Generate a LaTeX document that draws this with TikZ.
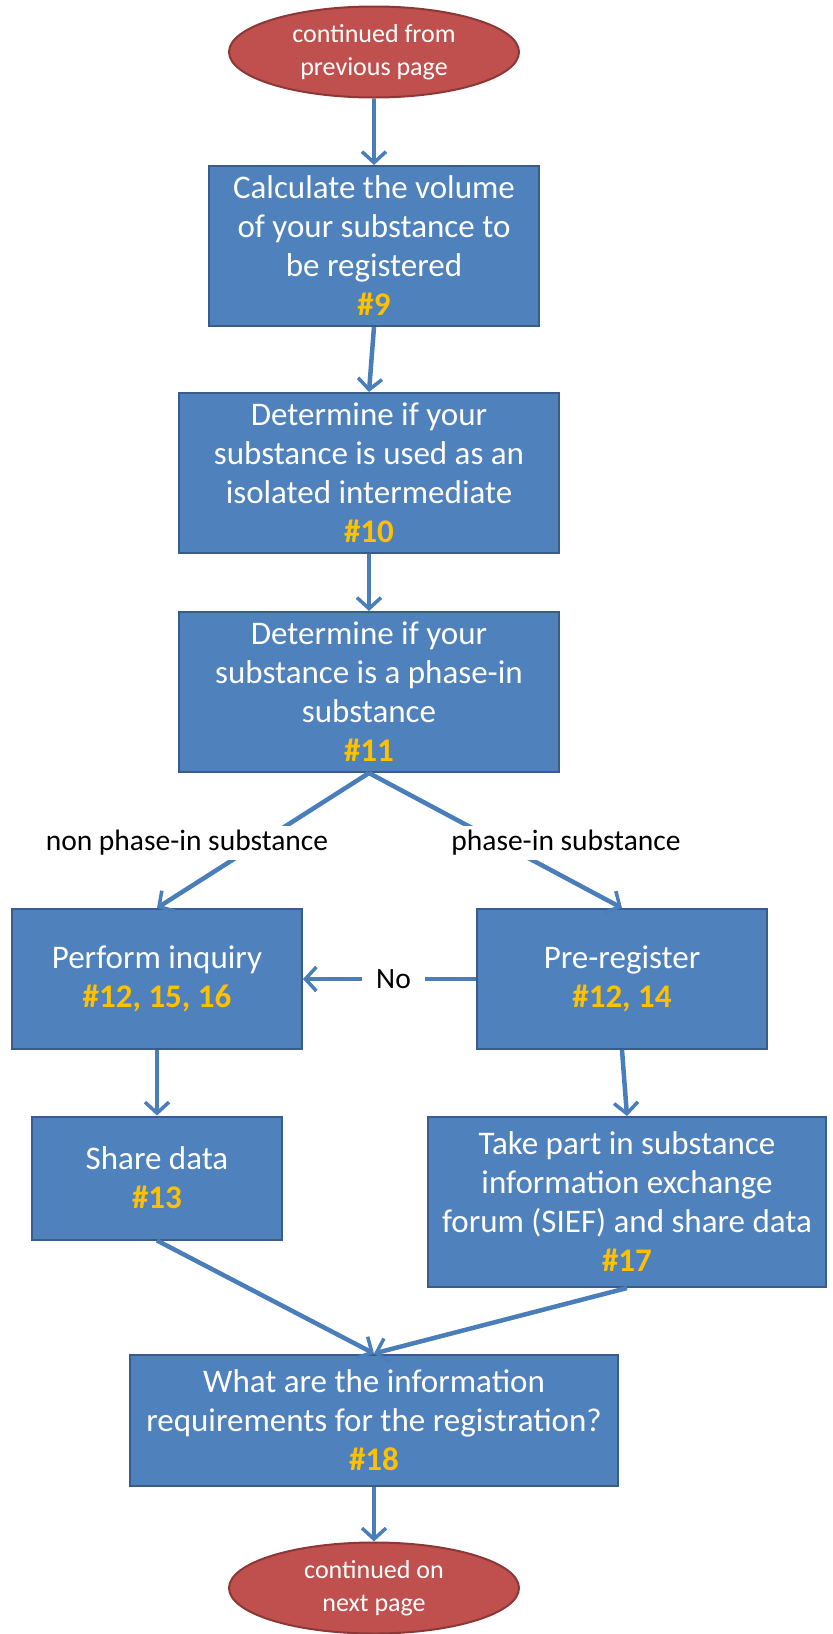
\documentclass[tikz,border=0pt]{standalone}
\usepackage{fontspec}
\setmainfont{Carlito}
\usetikzlibrary{arrows.meta,shapes.geometric}

\definecolor{boxfill}{HTML}{4F81BD}
\definecolor{boxline}{HTML}{385D8A}
\definecolor{endfill}{HTML}{C0504D}
\definecolor{endline}{HTML}{8C3836}
\definecolor{refnum}{HTML}{FFC000}
\definecolor{flow}{HTML}{4A7EBB}

\newcommand{\refno}[1]{\textcolor{refnum}{\bfseries #1}}

\tikzset{
  stepbox/.style={draw=boxline, line width=2pt, fill=boxfill, text=white,
    align=center, inner sep=0pt, font=\fontsize{33}{39}\selectfont},
  terminal/.style={ellipse, draw=endline, line width=2pt, fill=endfill,
    text=white, align=center, minimum width=290pt, minimum height=91pt,
    inner sep=0pt, font=\fontsize{26}{33}\selectfont},
  flowarrow/.style={draw=flow, line width=4.5pt,
    -{Straight Barb[length=11pt,width=24pt,line width=3.5pt]}},
  branchlabel/.style={fill=white, text=black, inner sep=4pt,
    font=\fontsize{29.5}{34}\selectfont},
}

\begin{document}
\begin{tikzpicture}[x=1pt, y=-1pt]
  % page area
  \fill[white] (0,0) rectangle (833,1634);
  \useasboundingbox (0,0) rectangle (833,1634);

  % terminals and process steps
  \node[terminal] (start) at (374,52) {continued from\\previous page};
  \node[stepbox, minimum width=330pt, minimum height=160pt] (s9) at (374,246)
    {Calculate the volume\\of your substance to\\be registered\\\refno{\#9}};
  \node[stepbox, minimum width=380pt, minimum height=160pt] (s10) at (369,473)
    {Determine if your\\substance is used as an\\isolated intermediate\\\refno{\#10}};
  \node[stepbox, minimum width=380pt, minimum height=160pt] (s11) at (369,692)
    {Determine if your\\substance is a phase-in\\substance\\\refno{\#11}};
  \node[stepbox, minimum width=290pt, minimum height=140pt] (s12) at (157,979)
    {Perform inquiry\\\refno{\#12, 15, 16}};
  \node[stepbox, minimum width=290pt, minimum height=140pt] (s14) at (622,979)
    {Pre-register\\\refno{\#12, 14}};
  \node[stepbox, minimum width=250pt, minimum height=123pt] (s13) at (157,1178)
    {Share data\\\refno{\#13}};
  \node[stepbox, minimum width=398pt, minimum height=170pt] (s17) at (627,1202)
    {Take part in substance\\information exchange\\forum (SIEF) and share data\\\refno{\#17}};
  \node[stepbox, minimum width=488pt, minimum height=131pt] (s18) at (374,1420)
    {What are the information\\requirements for the registration?\\\refno{\#18}};
  \node[terminal] (end) at (374,1588) {continued on\\next page};

  % connectors
  \draw[flowarrow] (start) -- (s9);
  \draw[flowarrow] (s9.south) -- (s10.north);
  \draw[flowarrow] (s10.south) -- (s11.north);
  \draw[flowarrow] (s11.south) -- (s12.north);
  \draw[flowarrow] (s11.south) -- (s14.north);
  \draw[flowarrow] (s14.west) -- node[branchlabel, inner xsep=14pt, xshift=4pt] (no) {No} (s12.east);
  \draw[flowarrow] (s12.south) -- (s13.north);
  \draw[flowarrow] (s14.south) -- (s17.north);
  \draw[flowarrow] (s13.south) -- (s18.north);
  \draw[flowarrow] (s17.south) -- (s18.north);
  \draw[flowarrow] (s18.south) -- (end);

  % branch labels, laid over the split connectors
  \node[branchlabel] (nonphase) at (187,843) {non phase-in substance};
  \node[branchlabel] (phase) at (566,843) {phase-in substance};
\end{tikzpicture}
\end{document}
